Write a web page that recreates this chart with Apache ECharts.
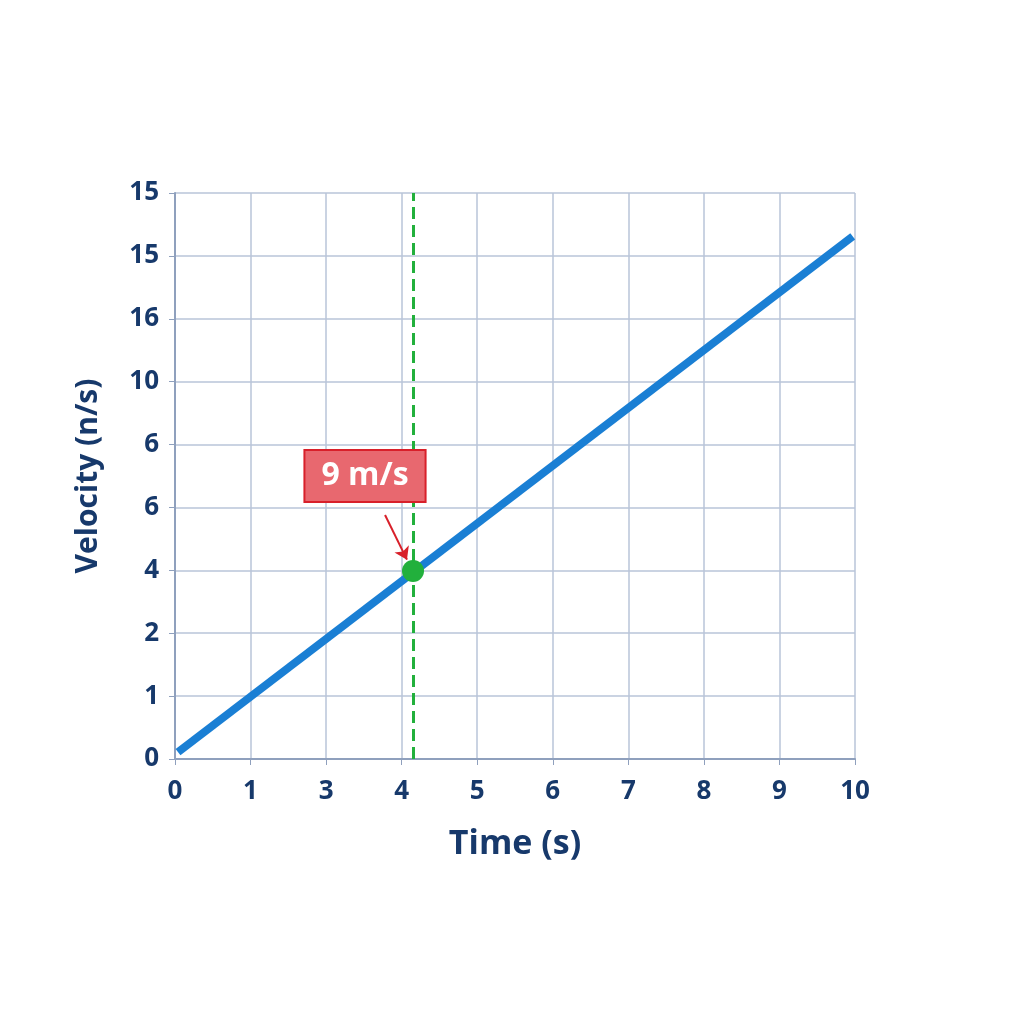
<!DOCTYPE html>
<html><head><meta charset="utf-8">
<script src="https://cdn.jsdelivr.net/npm/echarts@6/dist/echarts.min.js"></script>
<style>html,body{margin:0;background:#fff}#c{width:1024px;height:1024px}</style>
</head><body><div id="c"></div>
<script>
const xTickLabels = ['0','1','3','4','5','6','7','8','9','10'];
const yTickLabels = ['0','1','2','4','6','6','10','16','15','15'];
const lineX = [0.04, 8.97];
const lineY = [0.11, 8.31];
const markX = 3.15, markY = 2.99;
const calloutText = '9 m/s';
const arrowFrom = [2.78, 3.88];

const navy = '#17396b';
const chart = echarts.init(document.getElementById('c'));
chart.setOption({
  animation:false,
  grid:{left:175, right:169, top:193, bottom:265},
  xAxis:{type:'value', min:0, max:9, interval:1,
    name:'Time (s)', nameLocation:'middle', nameGap:68,
    nameTextStyle:{color:navy, fontSize:34, fontWeight:'bold', fontFamily:'Open Sans'},
    axisLine:{show:true, lineStyle:{color:'#8fa0bd', width:2}},
    axisTick:{show:true, length:6, lineStyle:{color:'#8fa0bd'}},
    axisLabel:{color:navy, fontSize:26, fontWeight:'bold', fontFamily:'Open Sans', margin:20,
      formatter:v=>xTickLabels[Math.round(v)]},
    splitLine:{lineStyle:{color:'#b9c4d8', width:1.5}}},
  yAxis:{type:'value', min:0, max:9, interval:1,
    name:'Velocity (n/s)', nameLocation:'middle', nameGap:72, nameRotate:90,
    nameTextStyle:{color:navy, fontSize:30, fontWeight:'bold', fontFamily:'Open Sans'},
    axisLine:{show:true, lineStyle:{color:'#8fa0bd', width:2}},
    axisTick:{show:true, length:6, lineStyle:{color:'#8fa0bd'}},
    axisLabel:{color:navy, fontSize:26, fontWeight:'bold', fontFamily:'Open Sans', margin:16,
      formatter:v=>yTickLabels[Math.round(v)]},
    splitLine:{lineStyle:{color:'#b9c4d8', width:1.5}}},
  series:[
    {type:'line', data:[[lineX[0],lineY[0]],[lineX[1],lineY[1]]], symbol:'none',
      lineStyle:{color:'#1a7fd4', width:8},
      markLine:{silent:true, symbol:'none', label:{show:false},
        lineStyle:{color:'#22b03c', type:'dashed', width:3},
        data:[[{coord:[markX,0]},{coord:[markX,9]}]]}},
    {type:'lines', coordinateSystem:'cartesian2d', z:5,
      data:[{coords:[arrowFrom,[markX-0.08,markY+0.18]]}],
      symbol:['none','arrow'], symbolSize:12,
      lineStyle:{color:'#d8202a', width:2, opacity:1}},
    {type:'scatter', data:[[markX,markY]], symbolSize:22, z:6,
      itemStyle:{color:'#22b03c', opacity:1},
      label:{show:true, formatter:calloutText, position:'top', offset:[-48,-54],
        color:'#fff', fontSize:32, fontWeight:'bold', fontFamily:'Open Sans',
        backgroundColor:'#e8686f', borderColor:'#d8202a', borderWidth:2,
        padding:[9,16,9,16]}}
  ]
});
</script></body></html>
